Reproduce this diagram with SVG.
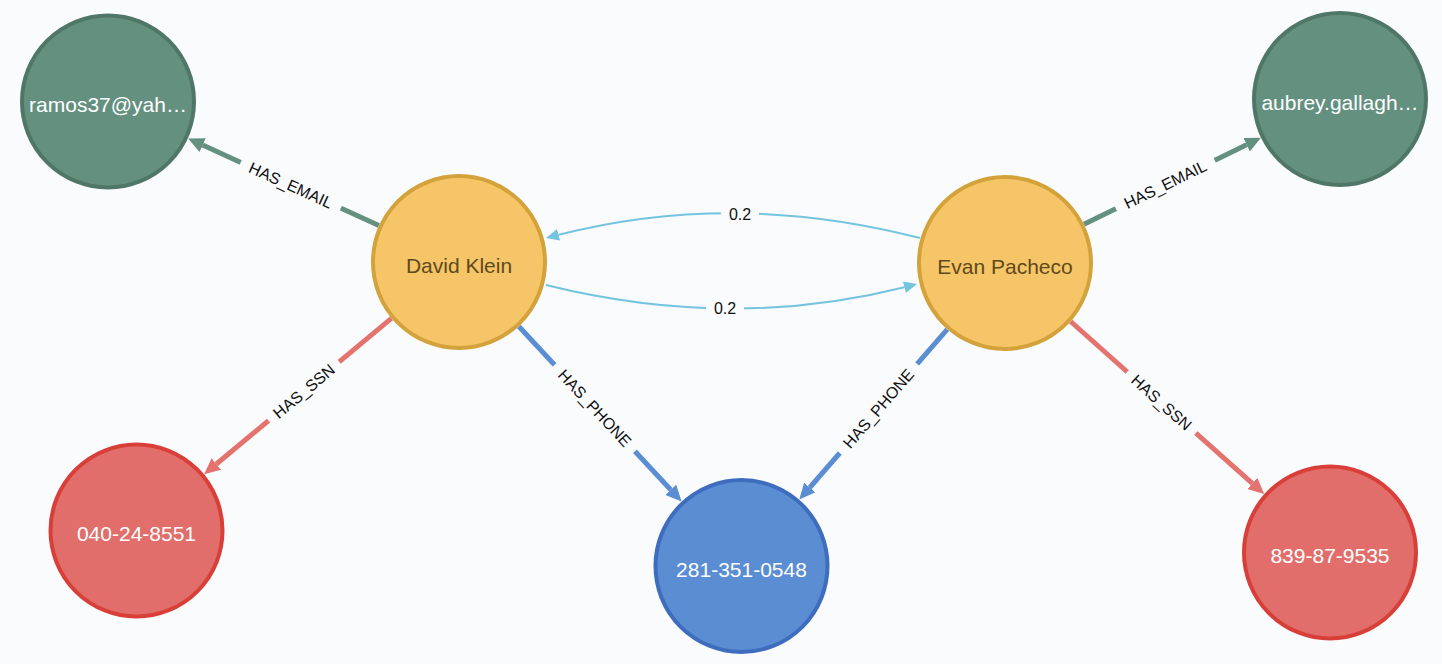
<svg xmlns="http://www.w3.org/2000/svg" width="1442" height="664" viewBox="0 0 1442 664">
<defs>
<style>
.node circle{stroke-width:4}
.node text{font-family:"Liberation Sans",Arial,sans-serif;font-size:21px;text-anchor:middle;fill:#ffffff}
.email circle{fill:#64917F;stroke:#4F7666}
.person circle{fill:#F6C567;stroke:#D3A23B}
.person text{fill:#5E4A1C}
.ssn circle{fill:#E16E6B;stroke:#D93F39}
.phone circle{fill:#5B8DD3;stroke:#3E6DBE}
.edge{fill:none;stroke-width:5}
.e-email{stroke:#64917F}
.e-ssn{stroke:#E4736F}
.e-phone{stroke:#5B8DD3}
.e-sim{stroke:#74C3DF;stroke-width:2}
.lbl rect{fill:#F9FBFD}
.lbl text{font-family:"Liberation Sans",Arial,sans-serif;font-size:16px;text-anchor:middle;fill:#111111}
</style>
<marker id="a-email" viewBox="0 0 16 15" refX="0" refY="7.5" markerWidth="16" markerHeight="15" markerUnits="userSpaceOnUse" orient="auto"><path d="M0,0 L16,7.5 L0,15 z" fill="#64917F"/></marker>
<marker id="a-ssn" viewBox="0 0 16 15" refX="0" refY="7.5" markerWidth="16" markerHeight="15" markerUnits="userSpaceOnUse" orient="auto"><path d="M0,0 L16,7.5 L0,15 z" fill="#E4736F"/></marker>
<marker id="a-phone" viewBox="0 0 16 15" refX="0" refY="7.5" markerWidth="16" markerHeight="15" markerUnits="userSpaceOnUse" orient="auto"><path d="M0,0 L16,7.5 L0,15 z" fill="#5B8DD3"/></marker>
<marker id="a-sim" viewBox="0 0 13 12" refX="0" refY="6" markerWidth="13" markerHeight="12" markerUnits="userSpaceOnUse" orient="auto"><path d="M0,0 L13,6 L0,12 z" fill="#74C3DF"/></marker>
</defs>
<rect x="0" y="0" width="1442" height="664" fill="#F9FBFD"/>
<g id="connectors">
<path class="edge e-email" d="M378.9,225.5 L202.7,145.1" marker-end="url(#a-email)"/>
<path class="edge e-email" d="M1084,224.3 L1246.6,144.7" marker-end="url(#a-email)"/>
<path class="edge e-ssn" d="M391.4,318.3 L216.4,464" marker-end="url(#a-ssn)"/>
<path class="edge e-phone" d="M518.9,326.5 L670.7,489.8" marker-end="url(#a-phone)"/>
<path class="edge e-phone" d="M947.2,329.4 L809.8,487.5" marker-end="url(#a-phone)"/>
<path class="edge e-ssn" d="M1070.7,321.5 L1252.3,483.4" marker-end="url(#a-ssn)"/>
<path class="edge e-sim" d="M546,285 Q731,331 904.4,287.2" marker-end="url(#a-sim)"/>
<path class="edge e-sim" d="M920,238 Q733,190 558.6,234.8" marker-end="url(#a-sim)"/>
<g class="lbl" transform="translate(290.8,185.3) rotate(24.5)"><rect x="-55" y="-7" width="110" height="14"/><text y="5.6">HAS_EMAIL</text></g>
<g class="lbl" transform="translate(1165.3,184.5) rotate(-26.1)"><rect x="-55" y="-7" width="110" height="14"/><text y="5.6">HAS_EMAIL</text></g>
<g class="lbl" transform="translate(303.9,391.2) rotate(-39.8)"><rect x="-46" y="-7" width="92" height="14"/><text y="5.6">HAS_SSN</text></g>
<g class="lbl" transform="translate(594.8,408.1) rotate(47.1)"><rect x="-59" y="-7" width="118" height="14"/><text y="5.6">HAS_PHONE</text></g>
<g class="lbl" transform="translate(878.5,408.5) rotate(-49)"><rect x="-59" y="-7" width="118" height="14"/><text y="5.6">HAS_PHONE</text></g>
<g class="lbl" transform="translate(1161.5,402.5) rotate(41.7)"><rect x="-46" y="-7" width="92" height="14"/><text y="5.6">HAS_SSN</text></g>
<g class="lbl" transform="translate(725,308)"><rect x="-19" y="-7" width="38" height="14"/><text y="5.6">0.2</text></g>
<g class="lbl" transform="translate(740,214)"><rect x="-19" y="-7" width="38" height="14"/><text y="5.6">0.2</text></g>
</g>
<g id="node-ramos" class="node email"><circle cx="108" cy="101.5" r="86"/><text x="108" y="112">ramos37@yah…</text></g>
<g id="node-aubrey" class="node email"><circle cx="1340" cy="99" r="86"/><text x="1340" y="109.5">aubrey.gallagh…</text></g>
<g id="node-david" class="node person"><circle cx="459" cy="262" r="86"/><text x="459" y="272.5">David Klein</text></g>
<g id="node-evan" class="node person"><circle cx="1005" cy="263" r="86"/><text x="1005" y="273.5">Evan Pacheco</text></g>
<g id="node-ssn1" class="node ssn"><circle cx="136.5" cy="530.5" r="86"/><text x="136.5" y="541">040-24-8551</text></g>
<g id="node-phone" class="node phone"><circle cx="741.5" cy="566" r="86"/><text x="741.5" y="576.5">281-351-0548</text></g>
<g id="node-ssn2" class="node ssn"><circle cx="1330" cy="552.5" r="86"/><text x="1330" y="563">839-87-9535</text></g>
</svg>
